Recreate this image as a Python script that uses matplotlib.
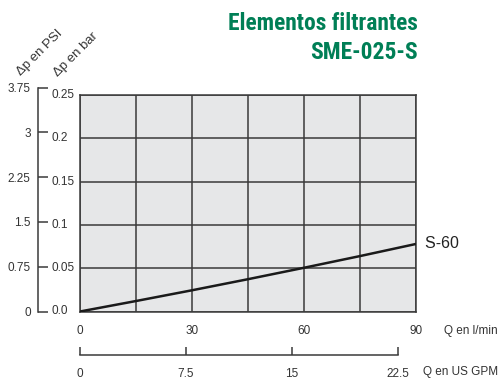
import matplotlib
matplotlib.use("Agg")
import matplotlib.pyplot as plt
import matplotlib.transforms as mtransforms
from matplotlib import font_manager as fm
import numpy as np

# ---- data ----
q_lmin = [0, 15, 30, 45, 60, 75, 90]
dp_bar = [0.0, 0.0121, 0.0245, 0.0373, 0.0505, 0.0640, 0.078]
series_label = "S-60"

bar_ticks = [0.0, 0.05, 0.1, 0.15, 0.2, 0.25]
bar_ticklabels = ["0.0", "0.05", "0.1", "0.15", "0.2", "0.25"]
psi_ticks = [0, 0.75, 1.5, 2.25, 3, 3.75]
psi_ticklabels = ["0", "0.75", "1.5", "2.25", "3", "3.75"]
lmin_ticks = [0, 30, 60, 90]
lmin_grid = [0, 15, 30, 45, 60, 75, 90]
gpm_ticks = [0, 7.5, 15, 22.5]
gpm_ticklabels = ["0", "7.5", "15", "22.5"]

title1 = "Elementos filtrantes"
title2 = "SME-025-S"
ylabel_psi = "Δp en PSI"
ylabel_bar = "Δp en bar"
xlabel_lmin = "Q en l/min"
xlabel_gpm = "Q en US GPM"

BAR_TO_PSI = 14.5038
GPM_TO_LMIN = 3.78541

# ---- style ----
W, H = 501, 381
txt_color = "#333333"
grid_color = "#3a3a3a"
green = "#007f56"
fam = ["Liberation Sans", "DejaVu Sans"]


def find_condensed_bold():
    prefs = ["Liberation Sans Narrow", "Roboto Condensed", "Open Sans Condensed",
             "Noto Sans", "Noto Sans Display", "Roboto", "Open Sans", "DejaVu Sans"]
    cond = {"condensed": 0, "semi-condensed": 1, "extra-condensed": 2, "ultra-condensed": 3}
    best = None
    for rank, name in enumerate(prefs):
        for f in fm.fontManager.ttflist:
            if f.name != name or f.style != "normal":
                continue
            w = f.weight if isinstance(f.weight, int) else fm.weight_dict.get(f.weight, 400)
            if w < 600 or w > 800:
                continue
            st = f.stretch if isinstance(f.stretch, str) else "normal"
            fname_l = f.fname.lower()
            is_cond = st in cond or "condensed" in fname_l or "narrow" in fname_l or "narrow" in name.lower() or "condensed" in name.lower()
            if not is_cond:
                continue
            sc = (rank, cond.get(st, 0), abs(w - 700))
            if best is None or sc < best[0]:
                best = (sc, f.fname)
        if best is not None:
            break
    if best is None:
        return fm.FontProperties(family=["Liberation Sans", "DejaVu Sans"], weight="bold")
    return fm.FontProperties(fname=best[1])


title_fp = find_condensed_bold()

fig = plt.figure(figsize=(W / 100, H / 100), dpi=100)


def fx(px):
    return px / W


def fy(py):
    return 1 - py / H


# main axes
left_px, right_px, top_px, bot_px = 80, 416, 95, 311.5
ax = fig.add_axes([fx(left_px), fy(bot_px), (right_px - left_px) / W, (bot_px - top_px) / H])
ax.set_facecolor("#e6e7e8")
ax.set_xlim(0, 90)
ax.set_ylim(0, 0.25)
ax.set_xticks(lmin_grid)
ax.set_yticks(bar_ticks)
ax.tick_params(length=0, labelbottom=False, labelleft=False)
ax.grid(True, color=grid_color, linewidth=1.1)
for s in ax.spines.values():
    s.set_color(grid_color)
    s.set_linewidth(1.1)

ax.plot(q_lmin, dp_bar, color="#1a1a1a", linewidth=1.8, solid_capstyle="butt", zorder=3)
ax.text(1.0, dp_bar[-1], "  " + series_label,
        transform=mtransforms.blended_transform_factory(ax.transAxes, ax.transData),
        ha="left", va="center", fontsize=11.5, color="#222222", family=fam)

# bar tick labels (left aligned)
tb = mtransforms.blended_transform_factory(fig.transFigure, ax.transData)
for v, lab in zip(bar_ticks, bar_ticklabels):
    ax.text(fx(52), v, lab, transform=tb, ha="left", va="center", fontsize=8.5, color=txt_color, family=fam)

# l/min tick labels
tx = mtransforms.blended_transform_factory(ax.transData, fig.transFigure)
for v in lmin_ticks:
    ax.text(v, fy(331), str(v), transform=tx, ha="center", va="center", fontsize=8.5, color=txt_color, family=fam)
fig.text(fx(498), fy(331), xlabel_lmin, ha="right", va="center", fontsize=8.5, color=txt_color, family=fam)

# PSI axis
ax_h = (bot_px - top_px) / H
psi_h = ax_h * (psi_ticks[-1] / BAR_TO_PSI) / 0.25
axp = fig.add_axes([fx(37.7), fy(bot_px), 0.001, psi_h])
axp.set_ylim(0, psi_ticks[-1])
axp.patch.set_visible(False)
for k in ["top", "right", "bottom"]:
    axp.spines[k].set_visible(False)
axp.spines["left"].set_color(grid_color)
axp.spines["left"].set_linewidth(1.1)
axp.set_xticks([])
axp.set_yticks(psi_ticks)
axp.set_yticklabels(psi_ticklabels)
axp.tick_params(axis="y", direction="in", length=7.5, width=1.1, color=grid_color, pad=5,
                labelsize=8.5, labelcolor=txt_color)
for t in axp.get_yticklabels():
    t.set_family(fam)

# GPM axis
gpm_y = 355
axg = fig.add_axes([fx(left_px), fy(gpm_y), (right_px - left_px) / W, 0.001])
axg.set_xlim(0, 90 / GPM_TO_LMIN)
axg.patch.set_visible(False)
for k in ["top", "right", "left"]:
    axg.spines[k].set_visible(False)
axg.spines["bottom"].set_bounds(gpm_ticks[0], gpm_ticks[-1])
axg.spines["bottom"].set_color(grid_color)
axg.spines["bottom"].set_linewidth(1.1)
axg.set_yticks([])
axg.set_xticks(gpm_ticks)
axg.set_xticklabels(gpm_ticklabels)
axg.tick_params(axis="x", direction="in", length=6, width=1.1, color=grid_color, pad=9.5,
                labelsize=8.5, labelcolor=txt_color)
for t in axg.get_xticklabels():
    t.set_family(fam)
fig.text(fx(498), fy(372), xlabel_gpm, ha="right", va="center", fontsize=8.5, color=txt_color, family=fam)

# rotated axis titles
fig.text(fx(39.5), fy(52.5), ylabel_psi, rotation=45, ha="center", va="center", rotation_mode="anchor",
         fontsize=9.5, color=txt_color, family=fam)
fig.text(fx(75.5), fy(55), ylabel_bar, rotation=45, ha="center", va="center", rotation_mode="anchor",
         fontsize=9.5, color=txt_color, family=fam)

# title (fit width of first line to ~190 px)
t1 = fig.text(fx(418), fy(24), title1, ha="right", va="center", fontproperties=title_fp,
              fontsize=17, color=green)
fig.canvas.draw()
wpx = t1.get_window_extent().width
size = min(18.0, 17 * 190.0 / wpx)
t1.set_fontsize(size)
fig.text(fx(418), fy(52.5), title2, ha="right", va="center", fontproperties=title_fp,
         fontsize=size, color=green)

fig.savefig("out.png", dpi=100)
